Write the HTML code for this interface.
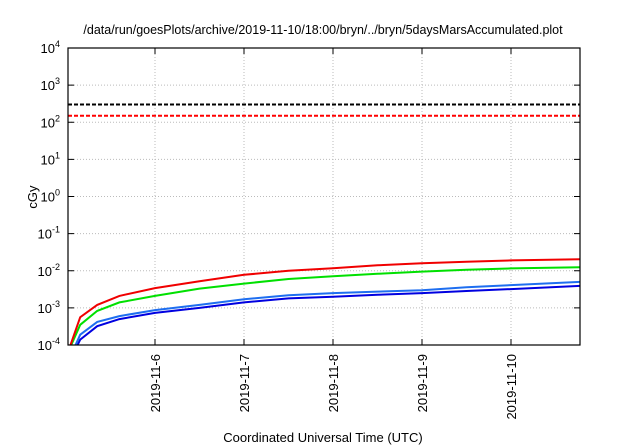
<!DOCTYPE html>
<html><head><meta charset="utf-8"><style>
body{margin:0;background:#fff;}
svg{display:block;font-family:"Liberation Sans",sans-serif;}
</style></head><body>
<svg id="chart" width="640" height="448" viewBox="0 0 640 448"></svg>
<script>
const days = [0.05, 0.16, 0.35, 0.6, 1, 1.5, 2, 2.5, 3, 3.5, 4, 4.5, 5, 5.78];
const redVals = [1e-4, 5.6e-4, 1.2e-3, 2.1e-3, 3.4e-3, 5.2e-3, 7.8e-3, 1.0e-2, 1.17e-2, 1.4e-2, 1.6e-2, 1.75e-2, 1.9e-2, 2.05e-2];
const greenVals = [9e-5, 3.5e-4, 8.3e-4, 1.4e-3, 2.1e-3, 3.3e-3, 4.5e-3, 6.0e-3, 7.1e-3, 8.3e-3, 9.5e-3, 1.06e-2, 1.16e-2, 1.24e-2];
const lightBlueVals = [5e-5, 1.9e-4, 4.2e-4, 6e-4, 8.7e-4, 1.2e-3, 1.7e-3, 2.2e-3, 2.5e-3, 2.75e-3, 3.0e-3, 3.6e-3, 4.1e-3, 5e-3];
const darkBlueVals = [4e-5, 1.4e-4, 3.2e-4, 5e-4, 7.3e-4, 1.0e-3, 1.4e-3, 1.8e-3, 2.0e-3, 2.25e-3, 2.5e-3, 2.85e-3, 3.2e-3, 3.9e-3];
const refBlack = 300;
const refRed = 150;
const yExps = [-4,-3,-2,-1,0,1,2,3,4];
const xTickDays = [1,2,3,4,5];
const xTickLabels = ["2019-11-6","2019-11-7","2019-11-8","2019-11-9","2019-11-10"];

const L=68,R=580,T=48,B=345;
const X0=66, DAYPX=89;
const xs = d => X0 + d*DAYPX;
const ys = v => T + (4 - Math.log10(v)) * (B-T)/8;
const NS="http://www.w3.org/2000/svg";
const svg=document.getElementById('chart');
function mk(tag, attrs, parent){const e=document.createElementNS(NS,tag);for(const k in attrs)e.setAttribute(k,attrs[k]);(parent||svg).appendChild(e);return e;}

const defs=mk('defs',{});
const cp=mk('clipPath',{id:'plotclip'},defs);
mk('rect',{x:L,y:T,width:R-L,height:B-T},cp);

const title=mk('text',{x:323,y:34,'text-anchor':'middle','font-size':12.5,fill:'#000'});


title.textContent='/data/run/goesPlots/archive/2019-11-10/18:00/bryn/../bryn/5daysMarsAccumulated.plot';

// y grid + ticks + labels
yExps.forEach(e=>{
  const y=ys(Math.pow(10,e));
  if(e>-4&&e<4){
    const g=mk('line',{x1:L,x2:R,y1:y,y2:y,stroke:'#bbb','stroke-width':1,'stroke-dasharray':'1,2'});
    
    
  }
  mk('line',{x1:L,x2:L+6,y1:y,y2:y,stroke:'#000'});
  mk('line',{x1:R-6,x2:R,y1:y,y2:y,stroke:'#000'});
  const t=mk('text',{x:L-8,y:y+5,'text-anchor':'end','font-size':13,fill:'#000'});
  
  
  const b=mk('tspan',{},t);b.textContent='10';
  const s=mk('tspan',{dy:-6,'font-size':9},t);s.textContent=String(e);
});

// x grid + ticks + labels
xTickDays.forEach((d,i)=>{
  const x=xs(d);
  const g=mk('line',{x1:x,x2:x,y1:T,y2:B,stroke:'#bbb','stroke-width':1,'stroke-dasharray':'1,2'});
  
  
  mk('line',{x1:x,x2:x,y1:B,y2:B-6,stroke:'#000'});
  mk('line',{x1:x,x2:x,y1:T,y2:T+6,stroke:'#000'});
  const t=mk('text',{x:x+5,y:354,'text-anchor':'end','font-size':13,fill:'#000',transform:`rotate(-90 ${x+5} 354)`});
  
  
  t.textContent=xTickLabels[i];
});

// reference lines
[[refBlack,'#000','threshold-line-black'],[refRed,'#f00','threshold-line-red']].forEach(r=>{
  const y=ys(r[0]);
  const l=mk('line',{x1:L,x2:R,y1:y,y2:y,stroke:r[1],'stroke-width':2,'stroke-dasharray':'4,2'});
  
  
});

// series
const series=[[darkBlueVals,'#0000e0','series-dark-blue'],[lightBlueVals,'#1e6ef0','series-light-blue'],[greenVals,'#00e000','series-green'],[redVals,'#f00000','series-red']];
series.forEach(s=>{
  const pts=days.map((d,i)=>xs(d).toFixed(1)+','+ys(s[0][i]).toFixed(1)).join(' ');
  const p=mk('polyline',{points:pts,fill:'none',stroke:s[1],'stroke-width':2,'clip-path':'url(#plotclip)'});
  
  
});

// frame
const f=mk('rect',{x:L,y:T,width:R-L,height:B-T,fill:'none',stroke:'#000','stroke-width':1.2});



const yt=mk('text',{x:37,y:197,'text-anchor':'middle','font-size':13,fill:'#000',transform:'rotate(-90 37 197)'});


yt.textContent='cGy';
const xt=mk('text',{x:323,y:442,'text-anchor':'middle','font-size':13,fill:'#000'});


xt.textContent='Coordinated Universal Time (UTC)';
</script>
</body></html>
